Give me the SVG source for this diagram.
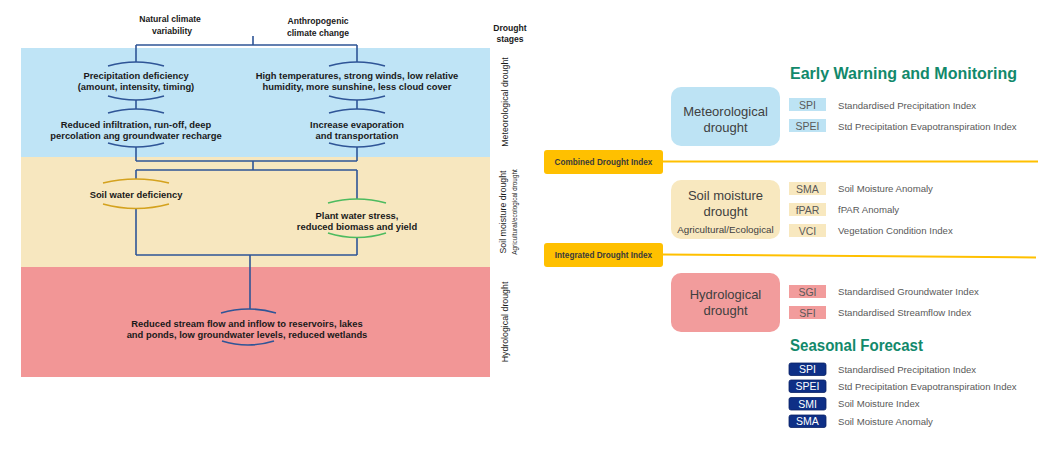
<svg xmlns="http://www.w3.org/2000/svg" width="1063" height="450" viewBox="0 0 1063 450">
<style>
  .lt { font-family: "Liberation Sans", Arial, sans-serif; font-weight: bold; font-size: 9.4px; fill: #1a1a1a; text-anchor: middle; }
  .hd { font-family: "Liberation Sans", Arial, sans-serif; font-weight: bold; font-size: 8.6px; fill: #1a1a1a; text-anchor: middle; }
  .vt { font-family: "Liberation Sans", Arial, sans-serif; font-size: 8.8px; fill: #1a1a1a; text-anchor: middle; }
  .ln { fill: none; stroke: #2F5597; stroke-width: 1.6; }
  .arc { fill: none; stroke: #2F5597; stroke-width: 1.6; }
  .big { font-family: "Liberation Sans", Arial, sans-serif; font-size: 13px; fill: #404040; text-anchor: middle; }
  .abbr { font-family: "Liberation Sans", Arial, sans-serif; font-size: 10.5px; fill: #595959; text-anchor: middle; }
  .desc { font-family: "Liberation Sans", Arial, sans-serif; font-size: 9.6px; fill: #595959; }
  .head { font-family: "Liberation Sans", Arial, sans-serif; font-weight: bold; font-size: 16px; fill: #12896B; }
  .idx { font-family: "Liberation Sans", Arial, sans-serif; font-weight: bold; font-size: 8.2px; fill: #3a3a3a; text-anchor: middle; }
  .nav { fill: #0E2F86; stroke: #0A2266; stroke-width: 0.8; }
  .navt { font-family: "Liberation Sans", Arial, sans-serif; font-size: 10.5px; fill: #ffffff; text-anchor: middle; }
</style>
<rect width="1063" height="450" fill="#ffffff"/>

<g id="bands">
  <rect x="21" y="48" width="469" height="109" fill="#BFE4F6"/>
  <rect x="21" y="157" width="469" height="110" fill="#F7E7BF"/>
  <rect x="21" y="267" width="469" height="110" fill="#F29696"/>
</g>

<g id="headers">
  <text class="hd" x="170" y="22">Natural climate</text>
  <text class="hd" x="172" y="34">variability</text>
  <text class="hd" x="318" y="24">Anthropogenic</text>
  <text class="hd" x="318" y="36">climate change</text>
  <text class="hd" x="510" y="31">Drought</text>
  <text class="hd" x="510" y="42">stages</text>
</g>

<g id="stage-labels">
  <text class="vt" transform="translate(508,102) rotate(-90)">Meteorological drought</text>
  <text class="vt" transform="translate(506,212) rotate(-90)">Soil moisture drought</text>
  <text class="vt" style="font-size:6.4px" transform="translate(517,212) rotate(-90)">Agricultural/ecological drought</text>
  <text class="vt" transform="translate(508,322) rotate(-90)">Hydrological drought</text>
</g>

<g id="connectors">
  <path class="ln" d="M253,36 V45 M136,45 H357 M136,45 V62 M357,45 V62"/>
  <path class="ln" d="M136,100 V109 M357,100 V109"/>
  <path class="ln" d="M136,147 V161 M357,147 V161 M136,161 H357 M253,161 V170 M136,170 H357"/>
  <path class="ln" d="M136,170 V179 M357,170 V199"/>
  <path class="ln" d="M136,209 V255 M357,238 V255 M136,255 H357 M250,255 V309"/>
</g>

<g id="node-precip">
  <path class="arc" d="M108,66 Q136,58 164,66"/>
  <text class="lt" x="136" y="78.5">Precipitation deficiency</text>
  <text class="lt" x="136" y="89.5">(amount, intensity, timing)</text>
  <path class="arc" d="M108,96 Q136,104 164,96"/>
</g>
<g id="node-hightemp">
  <path class="arc" d="M329,66 Q357,58 385,66"/>
  <text class="lt" x="357" y="78.5">High temperatures, strong winds, low relative</text>
  <text class="lt" x="357" y="89.5">humidity, more sunshine, less cloud cover</text>
  <path class="arc" d="M329,96 Q357,104 385,96"/>
</g>
<g id="node-infiltration">
  <path class="arc" d="M108,113 Q136,105 164,113"/>
  <text class="lt" x="136" y="127.5">Reduced infiltration, run-off, deep</text>
  <text class="lt" x="136" y="138.5">percolation ang groundwater recharge</text>
  <path class="arc" d="M108,143 Q136,151 164,143"/>
</g>
<g id="node-evaporation">
  <path class="arc" d="M329,113 Q357,105 385,113"/>
  <text class="lt" x="357" y="127.5">Increase evaporation</text>
  <text class="lt" x="357" y="138.5">and transportation</text>
  <path class="arc" d="M329,143 Q357,151 385,143"/>
</g>
<g id="node-soilwater">
  <path class="arc" style="stroke:#D4A21E" d="M103,183 Q136,175 169,183"/>
  <text class="lt" x="136" y="197.5">Soil water deficiency</text>
  <path class="arc" style="stroke:#D4A21E" d="M103,204 Q136,213 169,204"/>
</g>
<g id="node-plant">
  <path class="arc" style="stroke:#4DBB5F" d="M328,203 Q357,195 386,203"/>
  <text class="lt" x="357" y="218.5">Plant water stress,</text>
  <text class="lt" x="357" y="229.5">reduced biomass and yield</text>
  <path class="arc" style="stroke:#4DBB5F" d="M328,233 Q357,242 386,233"/>
</g>
<g id="node-streamflow">
  <path class="arc" d="M221,313 Q248,305 276,313"/>
  <text class="lt" x="247" y="326.5">Reduced stream flow and inflow to reservoirs, lakes</text>
  <text class="lt" x="247" y="337.5">and ponds, low groundwater levels, reduced wetlands</text>
  <path class="arc" d="M222,341 Q248,349 274,341"/>
</g>

<g id="right-connectors">
  <line x1="663" y1="161.5" x2="1038" y2="161.5" stroke="#FFC000" stroke-width="2"/>
  <line x1="663" y1="254.5" x2="1036" y2="257.5" stroke="#FFC000" stroke-width="2"/>
</g>

<g id="title-ewm">
  <text class="head" x="790" y="79" textLength="227" lengthAdjust="spacingAndGlyphs">Early Warning and Monitoring</text>
</g>

<g id="combined-index">
  <rect x="544" y="150" width="119" height="24" rx="3" fill="#FFC000"/>
  <text class="idx" x="603.5" y="165">Combined Drought Index</text>
</g>
<g id="integrated-index">
  <rect x="544" y="243" width="119" height="24" rx="3" fill="#FFC000"/>
  <text class="idx" x="603.5" y="258">Integrated Drought Index</text>
</g>

<g id="met-drought">
  <rect x="671" y="87" width="109" height="59" rx="10" fill="#BDE3F4"/>
  <text class="big" x="725.5" y="116">Meteorological</text>
  <text class="big" x="725.5" y="132">drought</text>
</g>
<g id="met-indices">
  <rect x="789" y="98" width="37" height="13" fill="#BDE3F4"/>
  <text class="abbr" x="807.5" y="108.5">SPI</text>
  <text class="desc" x="838" y="108.5">Standardised Precipitation Index</text>
  <rect x="789" y="119" width="37" height="13" fill="#BDE3F4"/>
  <text class="abbr" x="807.5" y="129.5">SPEI</text>
  <text class="desc" x="838" y="129.5">Std Precipitation Evapotranspiration Index</text>
</g>

<g id="soil-drought">
  <rect x="671" y="180" width="109" height="59" rx="10" fill="#F8E8BF"/>
  <text class="big" x="725.5" y="200">Soil moisture</text>
  <text class="big" x="725.5" y="216">drought</text>
  <text class="big" style="font-size:9.8px" x="725.5" y="233">Agricultural/Ecological</text>
</g>
<g id="soil-indices">
  <rect x="789" y="182" width="37" height="13" fill="#F8E8BF"/>
  <text class="abbr" x="807.5" y="192.5">SMA</text>
  <text class="desc" x="838" y="192">Soil Moisture Anomaly</text>
  <rect x="789" y="203" width="37" height="13" fill="#F8E8BF"/>
  <text class="abbr" x="807.5" y="213.5">fPAR</text>
  <text class="desc" x="838" y="213">fPAR Anomaly</text>
  <rect x="789" y="224" width="37" height="13" fill="#F8E8BF"/>
  <text class="abbr" x="807.5" y="234.5">VCI</text>
  <text class="desc" x="838" y="234">Vegetation Condition Index</text>
</g>

<g id="hydro-drought">
  <rect x="671" y="273" width="109" height="59" rx="10" fill="#F29C9C"/>
  <text class="big" x="725.5" y="299">Hydrological</text>
  <text class="big" x="725.5" y="315">drought</text>
</g>
<g id="hydro-indices">
  <rect x="789" y="285" width="37" height="13" fill="#F29C9C"/>
  <text class="abbr" x="807.5" y="295.5">SGI</text>
  <text class="desc" x="838" y="295">Standardised Groundwater Index</text>
  <rect x="789" y="306" width="37" height="13" fill="#F29C9C"/>
  <text class="abbr" x="807.5" y="316.5">SFI</text>
  <text class="desc" x="838" y="316">Standardised Streamflow Index</text>
</g>

<g id="title-seasonal">
  <text class="head" x="790" y="351" textLength="133" lengthAdjust="spacingAndGlyphs">Seasonal Forecast</text>
</g>
<g id="seasonal-indices">
  <rect class="nav" x="789" y="363" width="37" height="12.5" rx="2"/>
  <text class="navt" x="807.5" y="373">SPI</text>
  <text class="desc" x="838" y="372.5">Standardised Precipitation Index</text>
  <rect class="nav" x="789" y="380" width="37" height="12.5" rx="2"/>
  <text class="navt" x="807.5" y="390">SPEI</text>
  <text class="desc" x="838" y="389.5">Std Precipitation Evapotranspiration Index</text>
  <rect class="nav" x="789" y="397.5" width="37" height="12.5" rx="2"/>
  <text class="navt" x="807.5" y="407.5">SMI</text>
  <text class="desc" x="838" y="407">Soil Moisture Index</text>
  <rect class="nav" x="789" y="415" width="37" height="12.5" rx="2"/>
  <text class="navt" x="807.5" y="425">SMA</text>
  <text class="desc" x="838" y="424.5">Soil Moisture Anomaly</text>
</g>
</svg>
